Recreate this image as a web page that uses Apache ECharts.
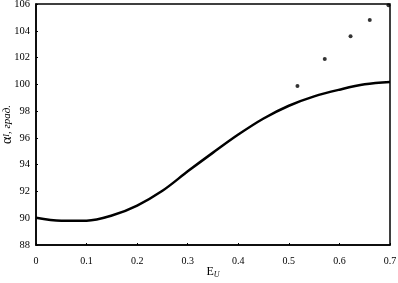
<!DOCTYPE html>
<html><head><meta charset="utf-8">
<script src="https://cdn.jsdelivr.net/npm/echarts@6/dist/echarts.min.js"></script>
<style>html,body{margin:0;padding:0;background:#fff}#c{width:398px;height:283px}</style>
</head><body><div id="c"></div>
<script>
const curveX = [0, 0.05, 0.1, 0.15, 0.2, 0.25, 0.3, 0.35, 0.4, 0.45, 0.5, 0.55, 0.6, 0.65, 0.7];
const curveY = [90.04, 89.82, 89.82, 90.2, 90.95, 92.05, 93.5, 94.9, 96.25, 97.45, 98.4, 99.1, 99.6, 100.0, 100.17];
const dotX = [0.517, 0.571, 0.622, 0.660, 0.697];
const dotY = [99.87, 101.9, 103.6, 104.8, 105.9];
const xTicks = [0, 0.1, 0.2, 0.3, 0.4, 0.5, 0.6, 0.7];
const yTicks = [88, 90, 92, 94, 96, 98, 100, 102, 104, 106];

const font = '"Liberation Serif", "DejaVu Serif", serif';
const chart = echarts.init(document.getElementById('c'), null, {renderer: 'canvas'});
chart.setOption({
  animation: false,
  backgroundColor: '#fff',
  grid: {left: 36, right: 8, top: 4, bottom: 38, show: true, borderColor: '#000', borderWidth: 1.5,
         containLabel: false, outerBoundsMode: 'none'},
  xAxis: {
    type: 'value', min: 0, max: 0.7, interval: 0.1,
    name: '{m|E}{s|U}', nameLocation: 'middle', nameGap: 20, nameMoveOverlap: false,
    nameTextStyle: {rich: {m: {fontFamily: font, fontSize: 12, color: '#000'}, s: {fontFamily: font, fontSize: 8, fontStyle: 'italic', color: '#000', verticalAlign: 'bottom', padding: [6, 0, 0, 0]}}},
    axisLine: {lineStyle: {color: '#000', width: 1.5}},
    axisTick: {inside: true, length: 2, lineStyle: {color: '#000'}},
    splitLine: {show: false},
    axisLabel: {fontFamily: font, fontSize: 10, color: '#000', margin: 11,
      formatter: v => { const t = xTicks.find(k => Math.abs(k - v) < 1e-9); return t === undefined ? '' : String(t); }}
  },
  yAxis: {
    type: 'value', min: 88, max: 106, interval: 2,
    name: '{m|α}{s|I}{t|, град.}', nameLocation: 'middle', nameGap: 22, nameRotate: 90, nameMoveOverlap: false,
    nameTextStyle: {rich: {m: {fontFamily: font, fontSize: 14, color: '#000'}, s: {fontFamily: font, fontSize: 8, fontStyle: 'italic', color: '#000'}, t: {fontFamily: font, fontSize: 11, fontStyle: 'italic', color: '#000'}}},
    axisLine: {lineStyle: {color: '#000', width: 1.5}},
    axisTick: {inside: true, length: 2, lineStyle: {color: '#000'}},
    splitLine: {show: false},
    axisLabel: {fontFamily: font, fontSize: 10.5, color: '#000', margin: 6,
      formatter: v => { const t = yTicks.find(k => Math.abs(k - v) < 1e-9); return t === undefined ? '' : String(t); }}
  },
  series: [
    {type: 'line', smooth: 0.35, symbol: 'none', lineStyle: {color: '#000', width: 2.5},
     data: curveX.map((x, i) => [x, curveY[i]])},
    {type: 'scatter', symbol: 'circle', symbolSize: 4, itemStyle: {color: '#000'},
     data: dotX.map((x, i) => [x, dotY[i]])}
  ]
});
</script></body></html>
